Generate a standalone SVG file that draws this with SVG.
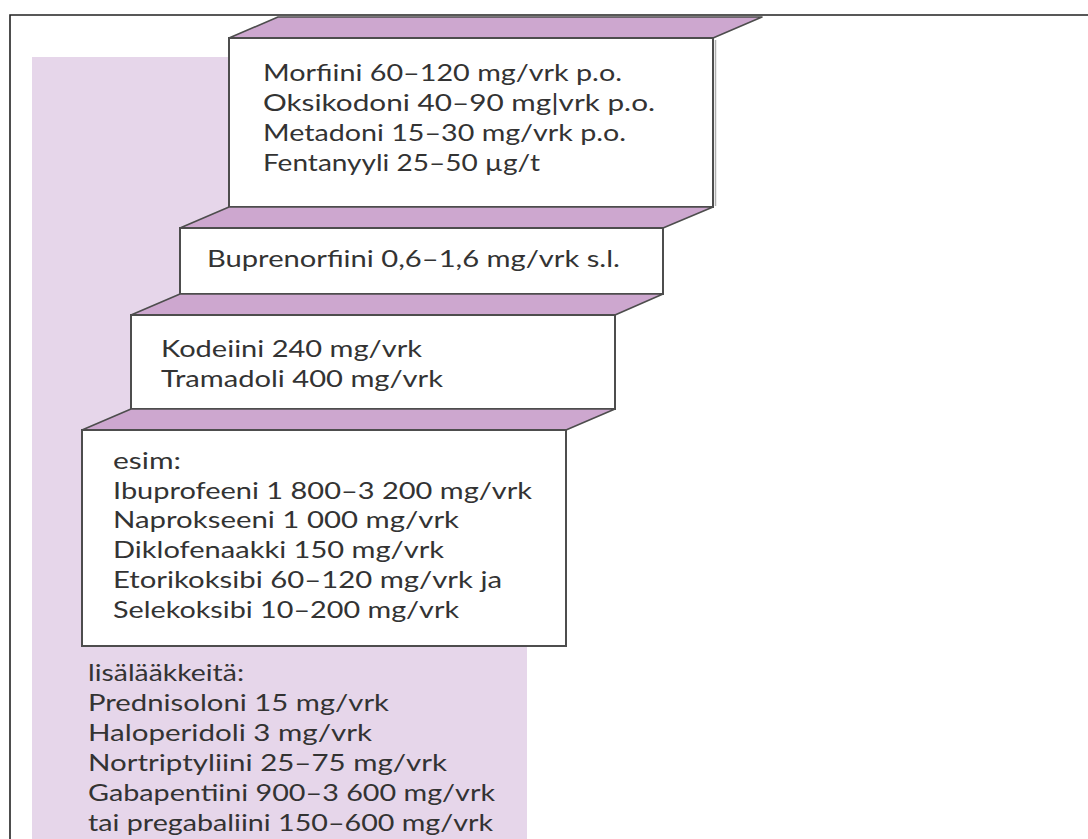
<svg xmlns="http://www.w3.org/2000/svg" width="1088" height="839" viewBox="0 0 1088 839">
<style>
.face{fill:#ffffff;stroke:#4d4d4d;stroke-width:2}
.top{fill:#cda7cf;stroke:#4d4d4d;stroke-width:1.6;stroke-linejoin:round}
.t{font-family:Lato,"Open Sans","Liberation Sans",sans-serif;font-size:23px;fill:#333333}
</style>
<rect x="0" y="0" width="1088" height="839" fill="#ffffff"/>
<g id="frame">
<path d="M10 839 V15 H1088" fill="none" stroke="#222222" stroke-width="1.6"/>
</g>
<g id="addons">
<rect x="32" y="57" width="495" height="782" fill="#e6d6ea"/>
<text class="t" x="88" y="681" textLength="156" lengthAdjust="spacingAndGlyphs">lisälääkkeitä:</text>
<text class="t" x="88" y="711" textLength="301" lengthAdjust="spacingAndGlyphs">Prednisoloni 15 mg/vrk</text>
<text class="t" x="88" y="741" textLength="284" lengthAdjust="spacingAndGlyphs">Haloperidoli 3 mg/vrk</text>
<text class="t" x="88" y="771" textLength="359" lengthAdjust="spacingAndGlyphs">Nortriptyliini 25–75 mg/vrk</text>
<text class="t" x="88" y="801" textLength="407" lengthAdjust="spacingAndGlyphs">Gabapentiini 900–3 600 mg/vrk</text>
<text class="t" x="88" y="831" textLength="405" lengthAdjust="spacingAndGlyphs">tai pregabaliini 150–600 mg/vrk</text>
</g>
<g id="step4">
<polygon class="top" points="229,38 278,17 762,17 713,38"/>
<rect class="face" x="229" y="38" width="484" height="169"/>
<line x1="715.5" y1="40" x2="715.5" y2="206" stroke="#b0b0b0" stroke-width="1.5"/>
<text class="t" x="263" y="81" textLength="359" lengthAdjust="spacingAndGlyphs">Morfiini 60–120 mg/vrk p.o.</text>
<text class="t" x="263" y="111" textLength="392" lengthAdjust="spacingAndGlyphs">Oksikodoni 40–90 mg|vrk p.o.</text>
<text class="t" x="263" y="141" textLength="363" lengthAdjust="spacingAndGlyphs">Metadoni 15–30 mg/vrk p.o.</text>
<text class="t" x="263" y="171" textLength="277" lengthAdjust="spacingAndGlyphs">Fentanyyli 25–50 µg/t</text>
</g>
<g id="step3">
<polygon class="top" points="180,228 229,207 713,207 663,228"/>
<rect class="face" x="180" y="228" width="483" height="66"/>
<text class="t" x="207" y="267" textLength="413" lengthAdjust="spacingAndGlyphs">Buprenorfiini 0,6–1,6 mg/vrk s.l.</text>
</g>
<g id="step2">
<polygon class="top" points="131,315 180,294 663,294 615,315"/>
<rect class="face" x="131" y="315" width="484" height="94"/>
<text class="t" x="161" y="357" textLength="261" lengthAdjust="spacingAndGlyphs">Kodeiini 240 mg/vrk</text>
<text class="t" x="161" y="387" textLength="282" lengthAdjust="spacingAndGlyphs">Tramadoli 400 mg/vrk</text>
</g>
<g id="step1">
<polygon class="top" points="82,430 131,409 615,409 566,430"/>
<rect class="face" x="82" y="430" width="484" height="216"/>
<text class="t" x="113" y="469" textLength="68" lengthAdjust="spacingAndGlyphs">esim:</text>
<text class="t" x="113" y="499" textLength="419" lengthAdjust="spacingAndGlyphs">Ibuprofeeni 1 800–3 200 mg/vrk</text>
<text class="t" x="113" y="528" textLength="346" lengthAdjust="spacingAndGlyphs">Naprokseeni 1 000 mg/vrk</text>
<text class="t" x="113" y="558" textLength="331" lengthAdjust="spacingAndGlyphs">Diklofenaakki 150 mg/vrk</text>
<text class="t" x="113" y="588" textLength="389" lengthAdjust="spacingAndGlyphs">Etorikoksibi 60–120 mg/vrk ja</text>
<text class="t" x="113" y="618" textLength="346" lengthAdjust="spacingAndGlyphs">Selekoksibi 10–200 mg/vrk</text>
</g>
<g id="connectors"/>
</svg>
